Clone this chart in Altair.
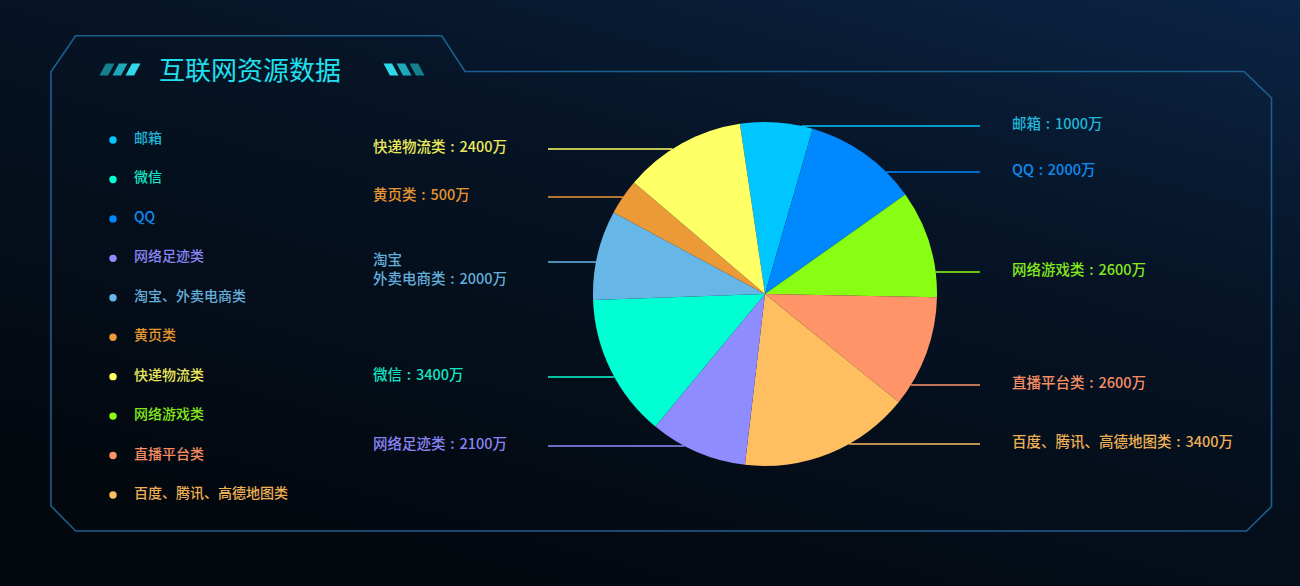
import math
import altair as alt
import pandas as pd

W, H = 1300, 586

# ---------------- data ----------------
slice_names = ["邮箱", "QQ", "网络游戏类", "直播平台类", "百度、腾讯、高德地图类",
               "网络足迹类", "微信", "淘宝、外卖电商类", "黄页类", "快递物流类"]
slice_colors = ["#00c6ff", "#0088ff", "#88ff12", "#ff9468", "#ffbe60",
                "#8f8cff", "#00ffd2", "#66b6e8", "#ec9a38", "#ffff66"]
# relative size of each slice as drawn in the picture
slice_share = [24.5, 38.6, 36.4, 37.8, 57.8, 32.9, 48.4, 30.3, 12.1, 41.2]
# values printed in the labels (万)
label_values = [1000, 2000, 2600, 2600, 3400, 2100, 3400, 2000, 500, 2400]
label_names = ["邮箱", "QQ", "网络游戏类", "直播平台类", "百度、腾讯、高德地图类",
               "网络足迹类", "微信", "淘宝\n外卖电商类", "黄页类", "快递物流类"]
text_colors = ["#1fb6d8", "#0f8cf2", "#84e81c", "#f48e62", "#eeb055",
               "#8a84f4", "#12e6c4", "#64aedc", "#e6962e", "#ecea5c"]
legend_order = ["邮箱", "微信", "QQ", "网络足迹类", "淘宝、外卖电商类", "黄页类",
                "快递物流类", "网络游戏类", "直播平台类", "百度、腾讯、高德地图类"]
title_text = "互联网资源数据"

# ---------------- layout ----------------
CX, CY, R = 765, 294, 172
START = -8.4 * math.pi / 180
label_side = ["r", "r", "r", "r", "r", "l", "l", "l", "l", "l"]
label_y = [126, 172, 272, 385, 444, 446, 377, 262, 197, 149]
LEFT_TEXT_X, LEFT_LINE_END = 373, 548
RIGHT_TEXT_X, RIGHT_LINE_END = 1012, 980
frame_x = [75.7, 441.7, 465, 1244, 1271.5, 1271.5, 1246.5, 75.7, 51, 51, 75.7]
frame_y = [35.7, 35.7, 71.5, 71.5, 98, 506.5, 531, 531, 506, 71.7, 35.7]
slash_left_x = [107, 120, 133]
slash_right_x = [391, 404, 417]
slash_y = 69.5
slash_cols = ["#14808f", "#1ea9ba", "#30d8ea"]

XS = alt.Scale(domain=[0, W], range=[0, W])
YS = alt.Scale(domain=[0, H], range=[0, H])
FONT = "Noto Sans CJK SC"
SEP = "\u2004:\u2004"

one = alt.Data(values=[{"a": 1}])

# background
bg = alt.Chart(one).mark_rect(
    color=alt.Gradient(
        gradient="linear", x1=1, y1=0, x2=0.4, y2=1,
        stops=[alt.GradientStop(color="#0b2444", offset=0),
               alt.GradientStop(color="#061426", offset=0.4),
               alt.GradientStop(color="#03080f", offset=1)])
).encode(x=alt.value(0), x2=alt.value(W), y=alt.value(0), y2=alt.value(H))

# frame
frame_df = pd.DataFrame({"x": frame_x, "y": frame_y, "i": range(len(frame_x))})
frame = alt.Chart(frame_df).mark_line(color="#1c5f8e", strokeWidth=1.6).encode(
    x=alt.X("x:Q", scale=XS, axis=None),
    y=alt.Y("y:Q", scale=YS, axis=None),
    order="i:Q")

# title
title = alt.Chart(one).mark_text(
    text=title_text, font=FONT, fontSize=26, color="#20e0ee",
    align="left", baseline="middle"
).encode(x=alt.value(159), y=alt.value(72))

# decorative slashes
path_fwd = "M-1,0.786L-0.143,-0.786L1,-0.786L0.143,0.786Z"
path_back = "M-1,-0.786L0.143,-0.786L1,0.786L-0.143,0.786Z"
sl_df = pd.DataFrame({"x": slash_left_x, "y": [slash_y] * 3, "c": slash_cols})
sr_df = pd.DataFrame({"x": slash_right_x, "y": [slash_y] * 3, "c": slash_cols[::-1]})
slash_l = alt.Chart(sl_df).mark_point(shape=path_fwd, filled=True, size=225, opacity=1).encode(
    x=alt.X("x:Q", scale=XS, axis=None), y=alt.Y("y:Q", scale=YS, axis=None),
    color=alt.Color("c:N", scale=None))
slash_r = alt.Chart(sr_df).mark_point(shape=path_back, filled=True, size=225, opacity=1).encode(
    x=alt.X("x:Q", scale=XS, axis=None), y=alt.Y("y:Q", scale=YS, axis=None),
    color=alt.Color("c:N", scale=None))

# pie data
pie_df = pd.DataFrame({
    "name": slice_names, "share": slice_share, "value": label_values,
    "idx": range(len(slice_names)), "tcol": text_colors,
})
pie = alt.Chart(pie_df).mark_arc(radius=R).encode(
    theta=alt.Theta("share:Q", stack=True,
                    scale=alt.Scale(range=[START + 2 * math.pi, START + 4 * math.pi])),
    color=alt.Color("name:N", scale=alt.Scale(domain=slice_names, range=slice_colors), legend=None),
    order=alt.Order("idx:Q"),
    x=alt.value(CX), y=alt.value(CY))

# leader lines and labels
rows = []
for n, v, s, y, c, tc in zip(label_names, label_values, label_side, label_y, slice_colors, text_colors):
    dx = math.sqrt(max(R * R - (y - CY) ** 2, 0))
    if s == "r":
        x0, x1, tx = CX + dx, RIGHT_LINE_END, RIGHT_TEXT_X
    else:
        x0, x1, tx = LEFT_LINE_END, CX - dx, LEFT_TEXT_X
    rows.append({"x0": x0, "x1": x1, "y": y, "tx": tx, "ty": y - 1,
                 "lc": c, "tc": tc, "label": f"{n}{SEP}{v}万"})
lab_df = pd.DataFrame(rows)

lines = alt.Chart(lab_df).mark_rule(strokeWidth=1.5).encode(
    x=alt.X("x0:Q", scale=XS, axis=None), x2="x1:Q",
    y=alt.Y("y:Q", scale=YS, axis=None),
    color=alt.Color("lc:N", scale=None))
labels = alt.Chart(lab_df).mark_text(
    font=FONT, fontSize=14.5, fontWeight=500, align="left", baseline="middle",
    lineBreak="\n", lineHeight=19
).encode(
    x=alt.X("tx:Q", scale=XS, axis=None), y=alt.Y("ty:Q", scale=YS, axis=None),
    text="label:N", color=alt.Color("tc:N", scale=None))

# legend
leg_df = pd.DataFrame({"name": legend_order})
leg_df["c"] = [slice_colors[slice_names.index(n)] for n in legend_order]
leg_df["tc"] = [text_colors[slice_names.index(n)] for n in legend_order]
LY = alt.Y("name:N", sort=legend_order,
           scale=alt.Scale(domain=legend_order, range=[140, 495], padding=0), axis=None)
leg_dots = alt.Chart(leg_df).mark_circle(size=55, opacity=1).encode(
    x=alt.value(113), y=LY, color=alt.Color("c:N", scale=None))
leg_text = alt.Chart(leg_df).mark_text(
    font=FONT, fontSize=14, fontWeight=500, align="left", baseline="middle", dy=-1
).encode(x=alt.value(134), y=LY, text="name:N", color=alt.Color("tc:N", scale=None))

chart = alt.layer(
    bg, frame, title, slash_l, slash_r, lines, pie, labels, leg_dots, leg_text
).resolve_scale(
    x="independent", y="independent", color="independent"
).properties(
    width=W, height=H, padding=0,
    autosize=alt.AutoSizeParams(type="none"),
    background="#050d18",
).configure_view(stroke=None)

chart.save("out.html", embed_options={"renderer": "svg", "actions": False})
